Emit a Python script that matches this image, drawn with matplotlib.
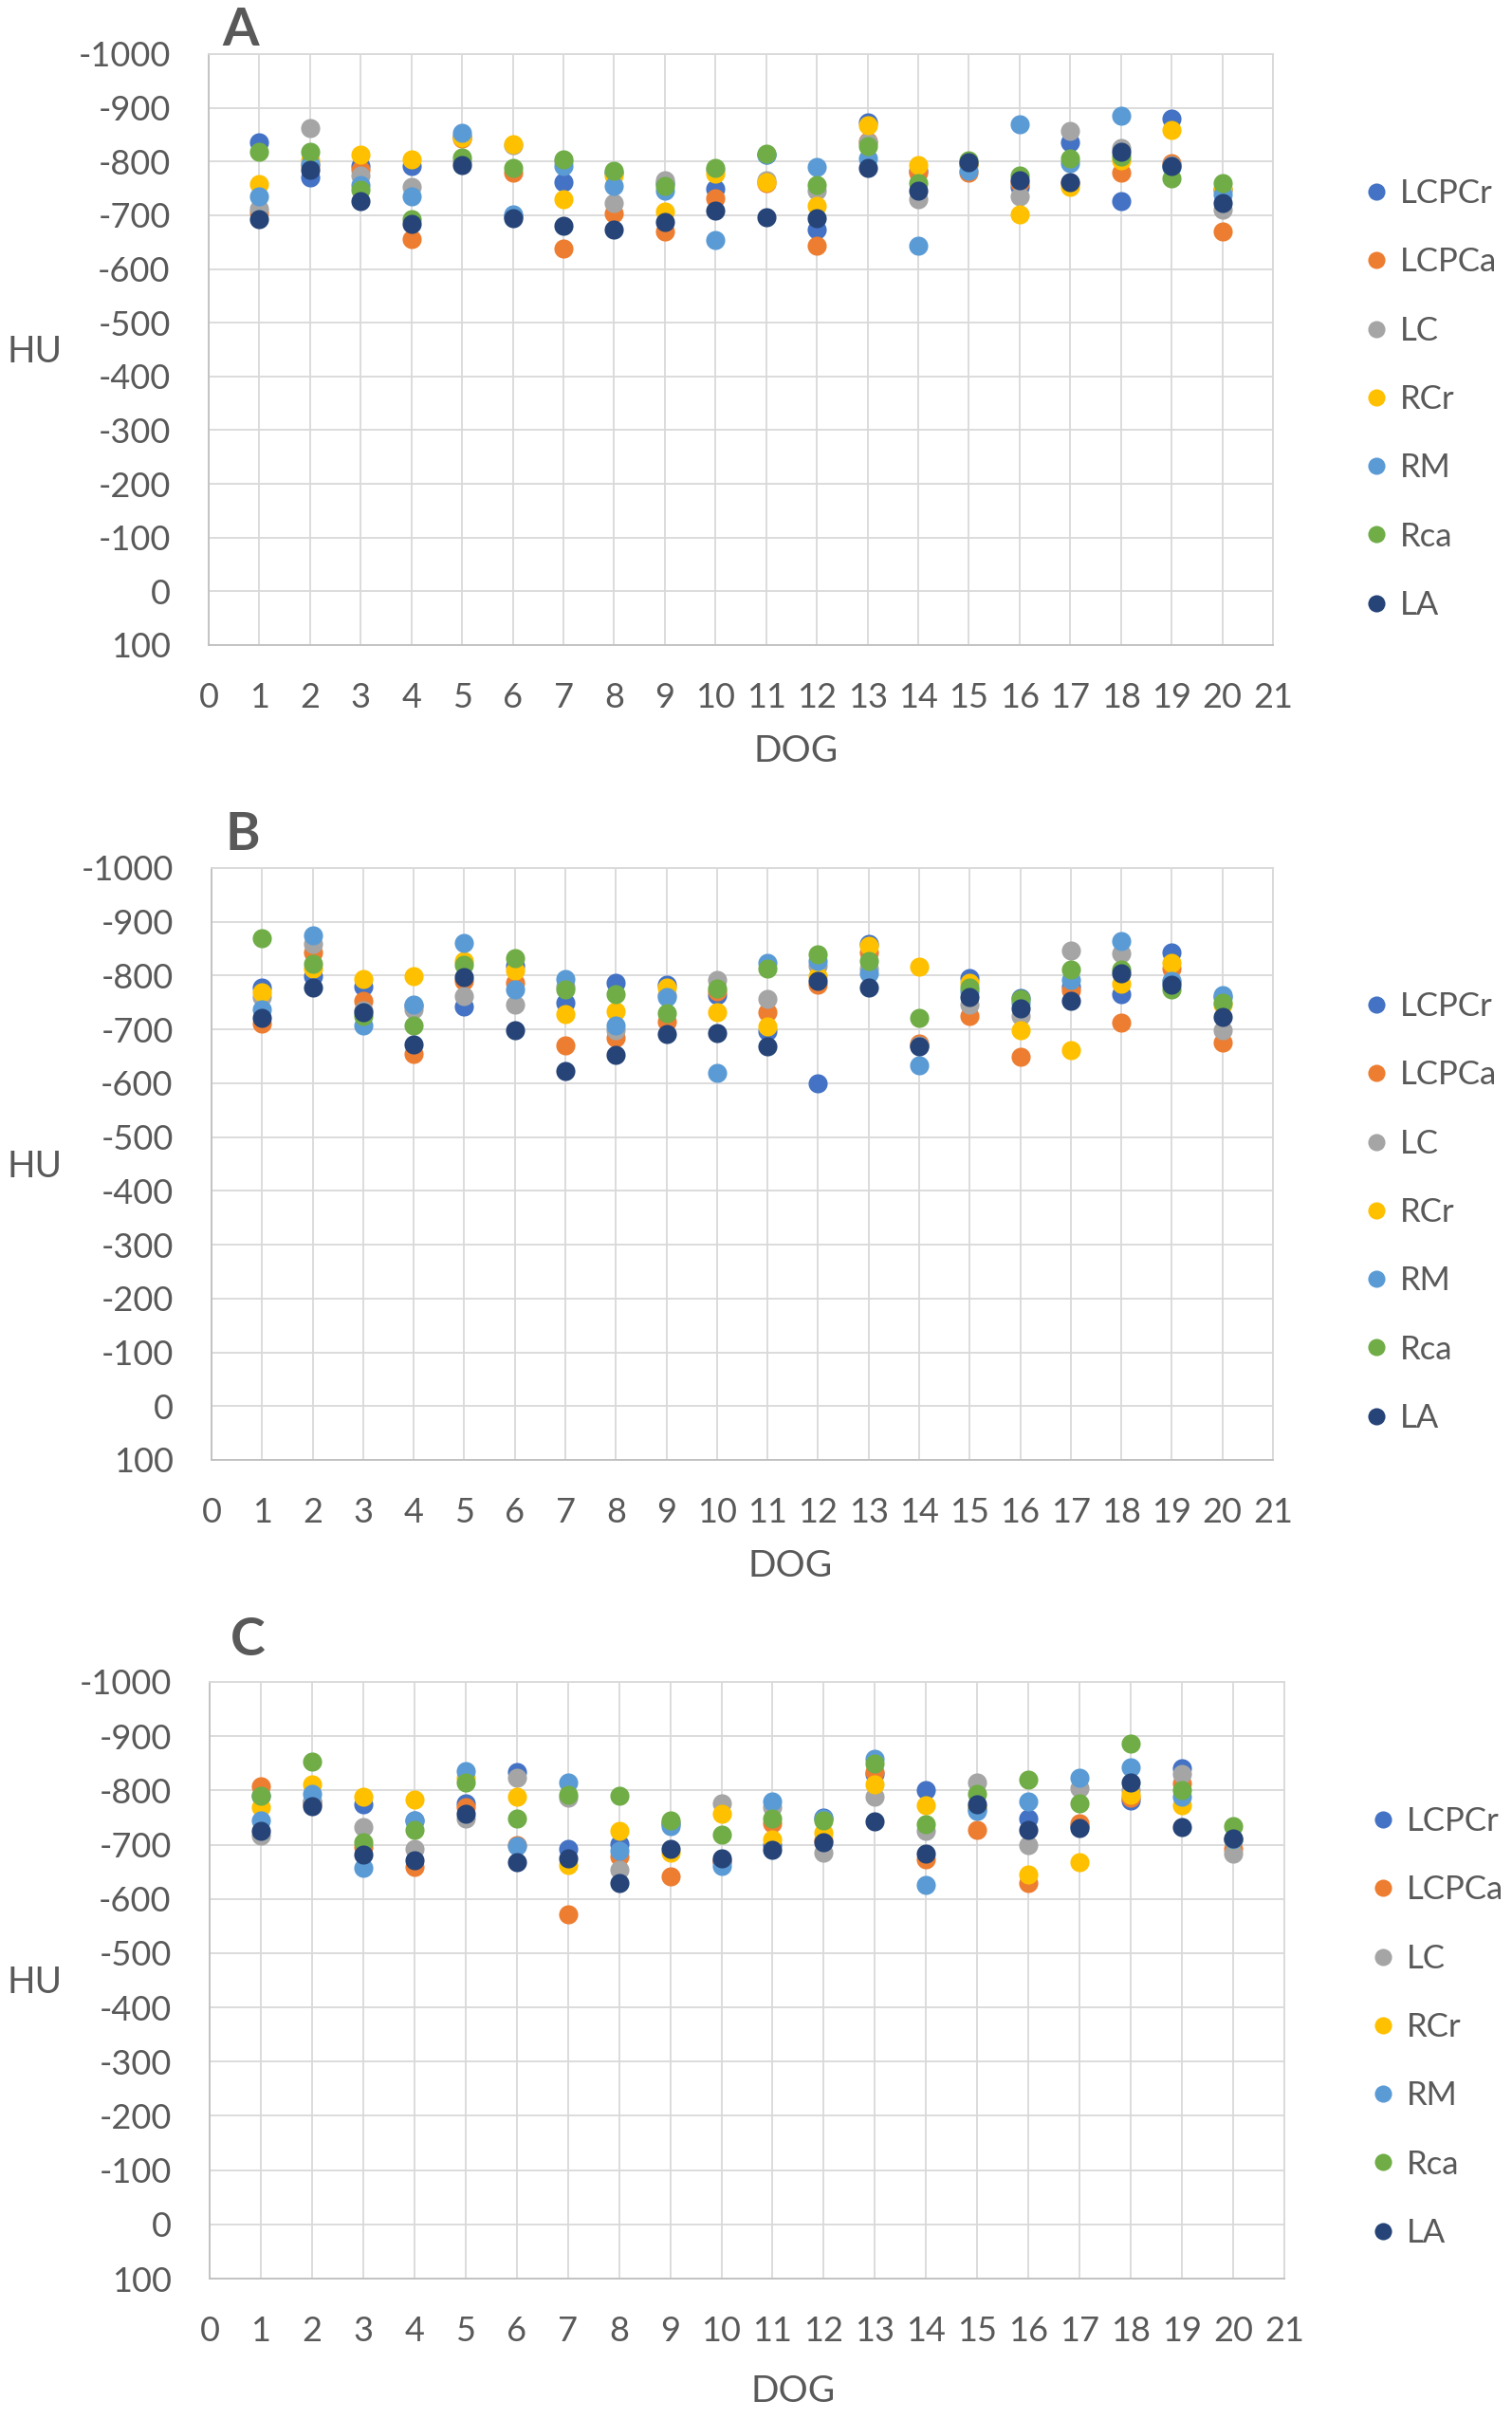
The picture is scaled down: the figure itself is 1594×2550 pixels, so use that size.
import matplotlib
matplotlib.use("Agg")
import matplotlib.pyplot as plt

plt.rcParams['font.family'] = ['Lato', 'DejaVu Sans']

dogs = list(range(1, 21))
series_names = ["LCPCr", "LCPCa", "LC", "RCr", "RM", "Rca", "LA"]
colors = ["#4472C4", "#ED7D31", "#A5A5A5", "#FFC000", "#5B9BD5", "#70AD47", "#264478"]

# Panel A values (HU) per series, dogs 1..20
A_LCPCr = [-836, -771, -791, -791, -847, -698, -762, -780, -760, -750, -812, -673, -873, -783, -795, -753, -836, -727, -880, -748]
A_LCPCa = [-705, -794, -785, -656, -842, -780, -638, -704, -670, -731, -760, -643, -838, -780, -780, -759, -760, -780, -797, -669]
A_LC    = [-712, -862, -774, -753, -800, -830, -800, -723, -765, -785, -765, -746, -835, -730, -795, -736, -857, -826, -794, -710]
A_RCr   = [-758, -803, -812, -804, -845, -832, -730, -774, -707, -778, -762, -718, -867, -793, -795, -701, -752, -803, -859, -750]
A_RM    = [-735, -795, -756, -736, -854, -702, -791, -755, -745, -654, -812, -790, -806, -644, -783, -870, -797, -885, -790, -739]
A_Rca   = [-818, -818, -748, -692, -807, -788, -804, -783, -755, -788, -815, -756, -829, -759, -803, -774, -806, -809, -769, -760]
A_LA    = [-692, -785, -727, -684, -794, -694, -680, -674, -688, -708, -697, -694, -788, -746, -798, -766, -762, -818, -791, -722]

# Panel B
B_LCPCr = [-778, -799, -780, -745, -742, -819, -750, -787, -784, -764, -696, -599, -859, -670, -796, -758, -780, -765, -843, -760]
B_LCPCa = [-711, -843, -753, -655, -790, -787, -671, -684, -715, -770, -732, -784, -843, -673, -725, -650, -772, -712, -814, -675]
B_LC    = [-761, -859, -735, -737, -762, -747, -780, -699, -764, -792, -756, -819, -814, -670, -746, -725, -846, -841, -790, -699]
B_RCr   = [-769, -814, -794, -799, -828, -809, -728, -734, -778, -732, -706, -799, -855, -816, -787, -699, -661, -785, -824, -746]
B_RM    = [-737, -875, -708, -747, -861, -775, -794, -708, -761, -619, -824, -827, -804, -633, -770, -750, -792, -865, -790, -764]
B_Rca   = [-869, -822, -725, -708, -821, -833, -774, -766, -730, -777, -814, -839, -828, -722, -778, -756, -812, -811, -775, -749]
B_LA    = [-722, -778, -732, -672, -798, -698, -622, -652, -692, -694, -669, -790, -778, -669, -761, -739, -753, -805, -784, -724]

# Panel C
C_LCPCr = [-790, -780, -775, -745, -776, -833, -693, -701, -740, -670, -700, -750, -830, -801, -766, -748, -735, -781, -841, -710]
C_LCPCa = [-807, -775, -696, -659, -769, -700, -571, -679, -641, -670, -740, -708, -833, -673, -727, -629, -740, -786, -813, -692]
C_LC    = [-717, -780, -732, -692, -749, -824, -786, -654, -740, -776, -769, -685, -788, -726, -814, -699, -805, -800, -830, -683]
C_RCr   = [-769, -812, -789, -783, -824, -788, -663, -725, -685, -757, -709, -722, -811, -772, -770, -645, -667, -792, -772, -710]
C_RM    = [-744, -794, -657, -744, -836, -698, -814, -689, -734, -661, -780, -749, -859, -625, -763, -779, -824, -843, -788, -710]
C_Rca   = [-790, -853, -705, -728, -815, -749, -792, -790, -744, -718, -749, -745, -850, -738, -793, -820, -777, -887, -800, -735]
C_LA    = [-725, -771, -682, -672, -757, -668, -675, -630, -693, -675, -690, -705, -743, -683, -775, -728, -731, -814, -733, -711]

panels = [
    ("A", [A_LCPCr, A_LCPCa, A_LC, A_RCr, A_RM, A_Rca, A_LA]),
    ("B", [B_LCPCr, B_LCPCa, B_LC, B_RCr, B_RM, B_Rca, B_LA]),
    ("C", [C_LCPCr, C_LCPCa, C_LC, C_RCr, C_RM, C_Rca, C_LA]),
]

x_ticks = list(range(0, 22))
y_ticks = list(range(-1000, 101, 100))
y_tick_labels = [str(v) for v in y_ticks]

W, H = 1594, 2550
fig = plt.figure(figsize=(W / 100, H / 100), dpi=100)

# layout in pixels: (left, right, top, bottom)
boxes = [(220, 1342, 57, 680), (223, 1342, 915, 1539), (221, 1354, 1773, 2402)]
letter_pos = [(254, 32), (256, 880), (261, 1729)]
hu_pos = [(37, 371), (37, 1230), (37, 2090)]
dog_pos = [(839, 792), (833, 1651), (836, 2521)]
legend_pos = [(1442, 421), (1442, 1278), (1449, 2137)]

text_color = "#595959"
grid_color = "#D9D9D9"

def fx(x):
    return x / W

def fy(y):
    return 1 - y / H

for (letter, data), (l, r, t, b), lp, hp, dp, lg in zip(panels, boxes, letter_pos, hu_pos, dog_pos, legend_pos):
    ax = fig.add_axes([fx(l), fy(b), (r - l) / W, (b - t) / H])
    handles = []
    for name, col, vals in zip(series_names, colors, data):
        h, = ax.plot(dogs, vals, linestyle="none", marker="o", markersize=14.5,
                     markerfacecolor=col, markeredgewidth=0, label=name, zorder=3)
        handles.append(h)
    ax.set_xlim(0, 21)
    ax.set_ylim(100, -1000)
    ax.set_xticks(x_ticks)
    ax.set_xticklabels([str(v) for v in x_ticks])
    ax.set_yticks(y_ticks)
    ax.set_yticklabels(y_tick_labels)
    ax.grid(True, color=grid_color, linewidth=1.3, zorder=0)
    ax.set_axisbelow(True)
    for s in ax.spines.values():
        s.set_color(grid_color)
        s.set_linewidth(1.3)
    ax.spines["left"].set_color("#BFBFBF")
    ax.spines["bottom"].set_color("#BFBFBF")
    ax.tick_params(axis="both", length=0, labelsize=26, labelcolor=text_color)
    ax.tick_params(axis="x", pad=28)
    ax.tick_params(axis="y", pad=29)

    fig.text(fx(lp[0]), fy(lp[1]), letter, fontsize=40, fontweight="bold",
             color=text_color, ha="center", va="center")
    fig.text(fx(hp[0]), fy(hp[1]), "HU", fontsize=28, color=text_color,
             ha="center", va="center")
    fig.text(fx(dp[0]), fy(dp[1]), "DOG", fontsize=28, color=text_color,
             ha="center", va="center")

    fig.legend(handles=handles, labels=series_names, loc="center left",
               bbox_to_anchor=(fx(lg[0]), fy(lg[1])), frameon=False,
               fontsize=25, labelcolor=text_color, handlelength=0.5,
               handletextpad=0.47, labelspacing=1.16, borderpad=0,
               borderaxespad=0, markerscale=0.9)

fig.savefig("out.png", dpi=100, facecolor="white")
